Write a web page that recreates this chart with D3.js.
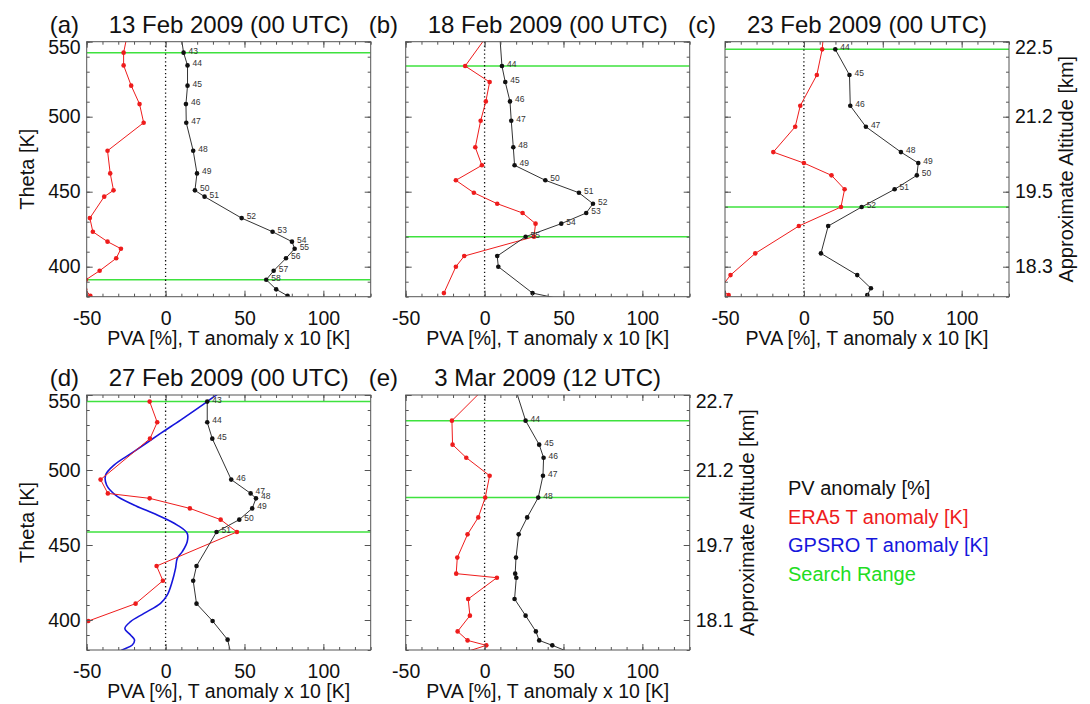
<!DOCTYPE html>
<html>
<head>
<meta charset="utf-8">
<script src="https://cdn.jsdelivr.net/npm/d3@7"></script>
<style>
  body { margin: 0; background: #fff; }
  svg { font-family: "Liberation Sans", Arial, Helvetica, sans-serif; }
</style>
</head>
<body>
<div id="chart"></div>
<script>
// ---- data (theta [K], PVA [%], ERA5 T anomaly x10 [K]) ----
const thetaA = [556, 542.7, 534.2, 520.7, 508.4, 496.0, 477.3, 462.2, 450.9, 446.7, 432.4, 423.3, 416.7, 412.0, 405.6, 397.3, 391.3, 384.9, 380.6];
const pvA    = [9.5, 11.4, 13.9, 13.9, 12.9, 13.1, 17.5, 19.9, 18.6, 24.7, 48.2, 67.8, 80.1, 81.8, 76.3, 68.5, 63.8, 70.1, 77.3];
const eraA   = [-24, -26.6, -26.6, -21.8, -16.5, -13.9, -36.8, -35.1, -33.0, -38.9, -48.0, -46.1, -36.8, -28.3, -31.3, -41.8, -50.5, -51, -47.7];
const rangeA = [542.7, 391.3];

const thetaB = [556, 533.8, 523.1, 510.2, 497.3, 479.6, 467.6, 457.6, 449.3, 442.0, 435.8, 428.7, 420.0, 407.1, 400.0, 382.4, 377];
const pvB    = [9.5, 11.0, 13.1, 16.1, 16.9, 18.2, 19.0, 38.5, 59.8, 68.7, 64.4, 48.6, 26.0, 8.0, 8.7, 30.4, 55];
const eraB   = [3.0, -12.3, 3.2, 0.8, -2.5, -5.9, -1.7, -18.2, -6.8, 8.0, 24.1, 32.3, 31.3, -12.9, -18.2, -25.8, null];
const rangeB = [533.8, 420.0];

const thetaC = [556, 544.9, 527.8, 507.3, 493.3, 476.4, 469.1, 460.9, 451.6, 439.8, 427.1, 408.9, 394.4, 385.6, 381.1];
const pvC    = [null, 19.9, 28.9, 29.4, 39.3, 61.5, 72.5, 71.6, 57.5, 36.6, 15.4, 10.8, 33.8, 42.5, 40.2];
const eraC   = [12.5, 11.6, 8.2, -2.3, -5.5, -19.4, 0.0, 17.5, 25.8, 23.5, -3.2, -30.8, -46.5, -53, -47.7];
const rangeC = [544.9, 439.8];

const thetaD = [545.6, 531.8, 520.9, 493.6, 484.4, 481.1, 474.4, 466.9, 458.7, 436.0, 426.2, 410.9, 399.3, 386.9, 377];
const pvD    = [26.4, 26.4, 29.6, 41.6, 53.9, 57.3, 54.9, 46.7, 32.3, 19.6, 17.5, 19.6, 29.8, 39.3, 41.5];
const eraD   = [-10.1, -5.3, -9.9, -41.2, -36.6, -10.1, 15.4, 34.9, 45.2, -5.7, -1.7, -19.0, -49.0, -58, null];
const rangeD = [545.6, 458.7];
// GPSRO T anomaly (x10) only in panel d
const gpsThetaD = [556, 550.4, 545.6, 533.3, 524.4, 512.2, 503.3, 496.7, 490, 483.3, 476.7, 470, 463.3, 457.8, 452.2, 445.6, 441.1, 434.4, 425.6, 416.7, 411.1, 404.4, 398.9, 394.4, 390, 386.7, 383.3, 380, 377];
const gpsD      = [40, 32.7, 26.4, 9.5, -3.2, -20.1, -32.7, -38.0, -37.4, -31.7, -20.1, -5.3, 7.4, 13.7, 13.7, 10.6, 7.4, 6.3, 4.2, 1.1, -3.2, -13.7, -22.2, -25.8, -22.2, -19.7, -21.1, -27.5, -31];

const thetaE = [556, 532.9, 516.9, 508.2, 496.2, 481.6, 468.4, 457.1, 441.6, 430.9, 428.2, 414.0, 402.9, 392.4, 386.4, 383.1, 378];
const pvE    = [19.0, 26.0, 34.6, 37.4, 37.0, 34.0, 27.0, 21.6, 19.9, 19.4, 20.1, 19.0, 26.0, 32.5, 34.6, 42.9, 55];
const eraE   = [1.3, -20.7, -20.3, -11.6, 3.2, 0.4, -4.0, -10.8, -17.3, -18.0, 7.8, -10.4, -9.3, -17.1, -10.8, 1.1, -14];
const rangeE = [532.9, 481.6];

// ticks
const xMajor = [-50, 0, 50, 100];
const yMajor = [400, 450, 500, 550];
const altC = ["18.3", "19.5", "21.2", "22.5"];
const altE = ["18.1", "19.7", "21.2", "22.7"];

const legendNames = ["PV anomaly [%]", "ERA5 T anomaly [K]", "GPSRO T anomaly [K]", "Search Range"];

// ---- layout ----
const W = 1090, H = 704;
const pw = 284, ph = 255;
const colPV = "#111", colERA = "#ee1c1c", colGPS = "#1616dc", colGreen = "#3ee23e", colAxis = "#555";

const svg = d3.select("#chart").append("svg")
  .attr("width", W).attr("height", H);

const x = d3.scaleLinear().domain([-50, 130]).range([0, pw]);
const y = d3.scaleLinear().domain([380, 550]).range([ph, 0]);

const panels = [
  { tag: "(a)", title: "13 Feb 2009 (00 UTC)", left: 86.7, top: 41.7, theta: thetaA, pv: pvA, era: eraA, range: rangeA, level: 43, yLab: true },
  { tag: "(b)", title: "18 Feb 2009 (00 UTC)", left: 405.7, top: 41.7, theta: thetaB, pv: pvB, era: eraB, range: rangeB, level: 44 },
  { tag: "(c)", title: "23 Feb 2009 (00 UTC)", left: 725, top: 41.7, theta: thetaC, pv: pvC, era: eraC, range: rangeC, level: 44, alt: altC },
  { tag: "(d)", title: "27 Feb 2009 (00 UTC)", left: 86.7, top: 395, theta: thetaD, pv: pvD, era: eraD, range: rangeD, level: 43, yLab: true, gps: true },
  { tag: "(e)", title: "3 Mar 2009 (12 UTC)", left: 405.7, top: 395, theta: thetaE, pv: pvE, era: eraE, range: rangeE, level: 44, alt: altE }
];

panels.forEach((p, pi) => {
  const g = svg.append("g").attr("transform", `translate(${p.left},${p.top})`);
  const clipId = "clip" + pi;
  g.append("clipPath").attr("id", clipId)
    .append("rect").attr("width", pw).attr("height", ph);
  const plot = g.append("g").attr("clip-path", `url(#${clipId})`);

  // search range
  plot.selectAll(".range").data(p.range).enter().append("line")
    .attr("x1", 0).attr("x2", pw)
    .attr("y1", d => y(d)).attr("y2", d => y(d))
    .attr("stroke", colGreen).attr("stroke-width", 1.5);

  // zero line
  plot.append("line")
    .attr("x1", x(0)).attr("x2", x(0)).attr("y1", 0).attr("y2", ph)
    .attr("stroke", "#111").attr("stroke-width", 1.3)
    .attr("stroke-dasharray", "1.3,2.6");

  if (p.gps) {
    const gpsLine = d3.line()
      .x((d, i) => x(d)).y((d, i) => y(gpsThetaD[i]))
      .curve(d3.curveCatmullRom);
    plot.append("path").datum(gpsD)
      .attr("d", gpsLine).attr("fill", "none")
      .attr("stroke", colGPS).attr("stroke-width", 1.6);
  }

  const series = [[p.era, colERA], [p.pv, colPV]];
  series.forEach(([vals, col]) => {
    const pts = vals.map((v, i) => ({ v: v, t: p.theta[i] }));
    const line = d3.line().defined(d => d.v != null)
      .x(d => x(d.v)).y(d => y(d.t));
    plot.append("path").datum(pts)
      .attr("d", line).attr("fill", "none")
      .attr("stroke", col === colPV ? "#333" : col).attr("stroke-width", 1);
    plot.selectAll(null).data(pts.filter(d => d.v != null)).enter().append("circle")
      .attr("cx", d => x(d.v)).attr("cy", d => y(d.t)).attr("r", 2.3)
      .attr("fill", col);
  });

  // level numbers on PV points inside the search range
  const inRange = p.theta.map((t, i) => ({ t: t, v: p.pv[i] }))
    .filter(d => d.v != null && d.t <= p.range[0] + 0.01 && d.t >= p.range[1] - 0.01);
  plot.selectAll(null).data(inRange).enter().append("text")
    .attr("x", d => x(d.v) + 5).attr("y", d => y(d.t) + 1)
    .attr("font-size", 8.5).attr("fill", "#333")
    .text((d, i) => p.level + i);

  // box
  g.append("rect").attr("width", pw).attr("height", ph)
    .attr("fill", "none").attr("stroke", colAxis).attr("stroke-width", 1);

  // ticks on all four sides (inward)
  const minorX = d3.range(-50, 131, 10), minorY = d3.range(380, 551, 10);
  const sides = [
    [d3.axisBottom(x), `translate(0,${ph})`, minorX, xMajor, d => d, true],
    [d3.axisTop(x), "translate(0,0)", minorX, xMajor, null, false],
    [d3.axisLeft(y), "translate(0,0)", minorY, yMajor, p.yLab ? (d => d) : null, p.yLab],
    [d3.axisRight(y), `translate(${pw},0)`, minorY, yMajor, p.alt ? ((d, i) => p.alt[i]) : null, !!p.alt]
  ];
  sides.forEach(([axis, tr, minor, major, fmt, show]) => {
    const gm = g.append("g").attr("transform", tr)
      .call(axis.tickValues(minor).tickSize(-3).tickFormat(""));
    gm.select(".domain").remove();
    gm.selectAll("line").attr("stroke", colAxis);
    const gM = g.append("g").attr("transform", tr)
      .call(axis.tickValues(major).tickSize(-6).tickPadding(show ? 6 : 0)
        .tickFormat(fmt ? fmt : () => ""));
    gM.select(".domain").remove();
    gM.selectAll("line").attr("stroke", colAxis);
    gM.selectAll("text").attr("font-size", 19.5).attr("fill", "#111")
      .attr("font-family", null);
    gM.attr("font-family", null);
  });
  // top label sits a bit lower, as in the original
  g.selectAll(".tick").filter(d => d === 550).select("text")
    .attr("y", 6);
  g.selectAll("g").filter(function () { return this.getAttribute("transform") === `translate(0,${ph})`; })
    .selectAll("text").attr("dy", null).attr("y", 28);

  // x axis title
  g.append("text").attr("x", pw / 2).attr("y", ph + 48)
    .attr("text-anchor", "middle").attr("font-size", 19.5).attr("fill", "#111")
    .text("PVA [%], T anomaly x 10 [K]");

  if (p.yLab) {
    g.append("text")
      .attr("transform", `translate(-53,${ph / 2}) rotate(-90)`)
      .attr("text-anchor", "middle").attr("font-size", 20).attr("fill", "#111")
      .text("Theta [K]");
  }
  if (p.alt) {
    g.append("text")
      .attr("transform", `translate(${pw + 64},${ph / 2}) rotate(-90)`)
      .attr("text-anchor", "middle").attr("font-size", 20).attr("fill", "#111")
      .text("Approximate Altitude [km]");
  }

  // title
  g.append("text").attr("x", pw / 2).attr("y", -9)
    .attr("text-anchor", "middle").attr("font-size", 24).attr("fill", "#111")
    .text(p.title);
  g.append("text").attr("x", -37).attr("y", -9)
    .attr("font-size", 24).attr("fill", "#111")
    .text(p.tag);
});

// legend
const legendColors = [colPV, colERA, colGPS, "#22dd22"];
svg.append("g").attr("transform", "translate(788,495)")
  .selectAll("text").data(legendNames).enter().append("text")
  .attr("y", (d, i) => i * 28.5)
  .attr("font-size", 20)
  .attr("fill", (d, i) => legendColors[i])
  .text(d => d);
</script>
</body>
</html>
